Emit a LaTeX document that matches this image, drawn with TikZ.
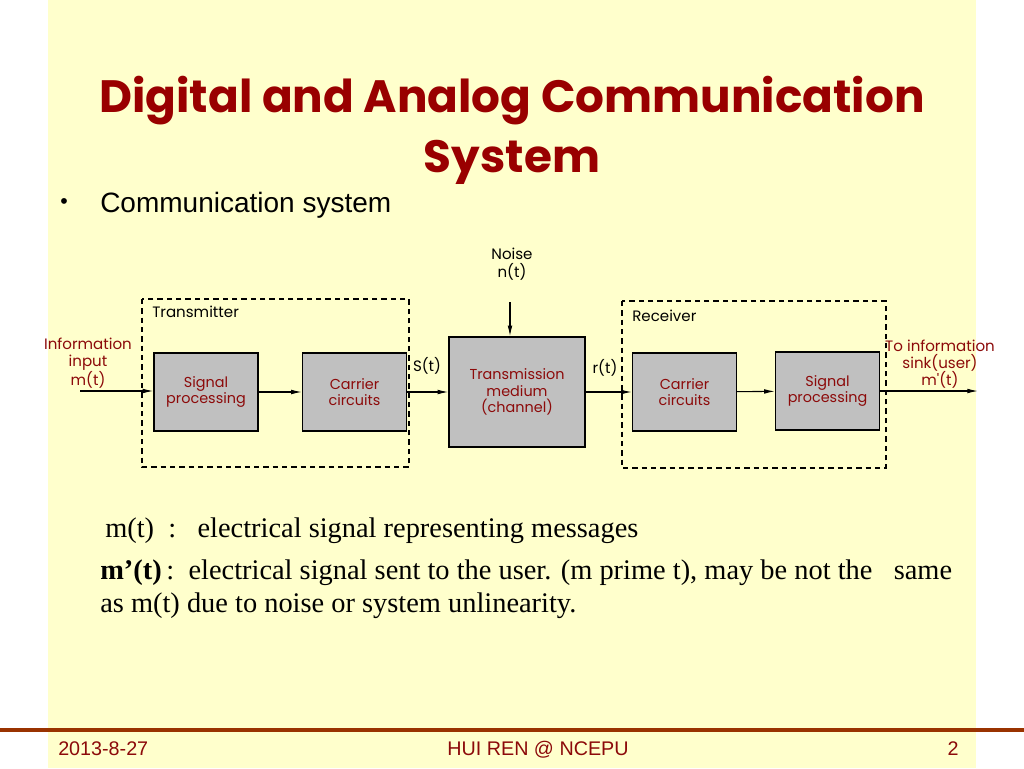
\documentclass[tikz,border=0pt]{standalone}
\usepackage{fontspec}
\setmainfont{Liberation Serif}
\newfontfamily\comicfont{Poppins}
\newfontfamily\arialfont{Liberation Sans}
\usetikzlibrary{arrows.meta}
\definecolor{slideyellow}{RGB}{255,255,204}
\definecolor{titlered}{RGB}{153,0,0}
\definecolor{labelred}{RGB}{140,10,10}
\definecolor{footline}{RGB}{153,51,0}
\definecolor{boxgray}{RGB}{192,192,192}

\begin{document}
\begin{tikzpicture}[x=0.75pt,y=-0.75pt,
  block/.style={rectangle,draw=black,line width=1pt,fill=boxgray,minimum width=78pt,minimum height=58.5pt,align=center,text=labelred,font=\comicfont\fontsize{10.8}{12.5}\selectfont},
  lbl/.style={align=center,font=\comicfont\fontsize{11.3}{13}\selectfont},
  arr/.style={-{Latex[length=8pt,width=3.5pt]},line width=0.8pt},
  frame/.style={dashed,dash pattern=on 4pt off 3pt,line width=1.1pt},
  foot/.style={inner sep=0pt,anchor=base,text=labelred,font=\arialfont\fontsize{14.8}{16}\selectfont}]
\useasboundingbox (0,0) rectangle (1024,768);
\fill[white] (0,0) rectangle (1024,768);
\fill[slideyellow] (48,0) rectangle (976,768);

\node (title1) at (512,112) [anchor=base,inner sep=0pt,font=\comicfont\bfseries\fontsize{34}{40}\selectfont,text=titlered] {Digital and Analog Communication};
\node (title2) at (512,172) [anchor=base,inner sep=0pt,font=\comicfont\bfseries\fontsize{34}{40}\selectfont,text=titlered] {System};
\node (bul) at (64,204) [font=\arialfont\fontsize{16}{18}\selectfont] {\textbullet};
\node (sub) at (100,212) [anchor=base west,inner sep=0pt,font=\arialfont\fontsize{21}{24}\selectfont] {Communication system};

\draw[frame] (142,299) rectangle (409,467);
\draw[frame] (622,301) rectangle (886,468);
\node (tx) at (152,312) [anchor=west,lbl,inner sep=0pt] {Transmitter};
\node (rx) at (632,316) [anchor=west,lbl,inner sep=0pt] {Receiver};

\node (sp1) at (206,392) [block] {Signal\\processing};
\node (cc1) at (354.5,392) [block] {Carrier\\circuits};
\node (med) at (517,392) [block,minimum width=102pt,minimum height=82.5pt] {Transmission\\medium\\(channel)};
\node (cc2) at (684.5,392) [block] {Carrier\\circuits};
\node (sp2) at (827.5,391) [block] {Signal\\processing};

\node (inp) at (88,363) [lbl,text=labelred,inner sep=0pt] {Information\\input\\m(t)};
\node (snk) at (940,364) [lbl,text=labelred,inner sep=0pt] {To information\\sink(user)\\m'(t)};
\node (noise) at (512,264) [lbl,inner sep=0pt] {Noise\\n(t)};
\node (st) at (427,366) [lbl,inner sep=0pt] {S(t)};
\node (rt) at (605,368) [lbl,inner sep=0pt] {r(t)};

\coordinate (in) at (80,391);
\coordinate (out) at (978,391);
\coordinate (nz) at (510,302);

\draw[arr] (in) -- (in -| sp1.west);
\draw[arr] (sp1) -- (cc1);
\draw[arr] (cc1) -- (med);
\draw[arr] (med) -- (cc2);
\draw[arr] (cc2) -- (sp2);
\draw[arr] (sp2.east |- out) -- (out);
\draw[arr] (nz) -- (nz |- med.north);

\node (def1) at (105,537) [anchor=base west,inner sep=0pt,font=\fontsize{21.3}{24}\selectfont] {m(t)\ \ :\ \ \ electrical signal representing messages};
\node (def2) at (100,579) [anchor=base west,inner sep=0pt,font=\fontsize{21.3}{24}\selectfont] {\textbf{m'(t)}\,:\ \ electrical signal sent to the user. (m prime t), may be not the\ \ \ same};
\node (def3) at (100,612) [anchor=base west,inner sep=0pt,font=\fontsize{21.3}{24}\selectfont] {as m(t) due to noise or system unlinearity.};

\draw[footline,line width=2.3pt] (0,730) -- (1024,730);
\node (date) at (58,755) [foot,anchor=base west] {2013-8-27};
\node (auth) at (538,755) [foot] {HUI REN @ NCEPU};
\node (page) at (953,755) [foot] {2};
\end{tikzpicture}
\end{document}
